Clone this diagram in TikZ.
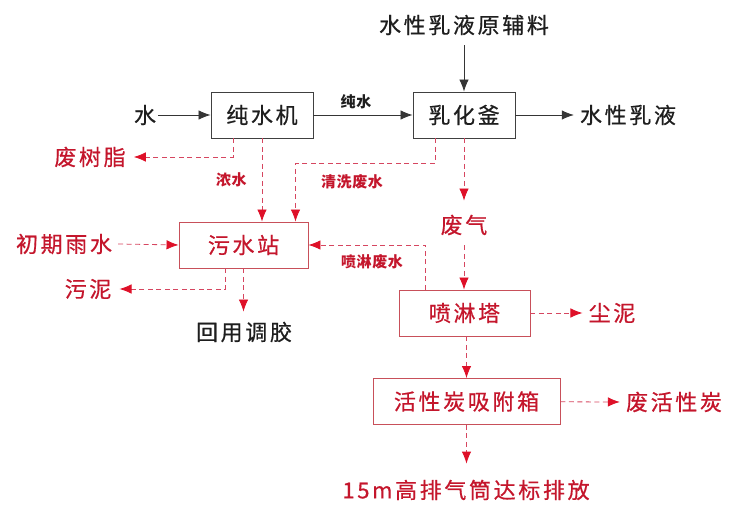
\documentclass[tikz,border=0pt]{standalone}
\usepackage{fontspec}
\setmainfont{Noto Sans CJK SC}[LetterSpace=12,FakeBold=0.6]
\newfontfamily\lblfont{Noto Sans CJK SC}[LetterSpace=4]
\usetikzlibrary{arrows.meta}
\definecolor{rtext}{RGB}{196,22,44}
\definecolor{rline}{RGB}{214,70,96}
\definecolor{rbord}{RGB}{200,80,90}
\definecolor{rhead}{RGB}{222,16,40}
\definecolor{btext}{RGB}{30,30,30}
\tikzset{
  txt/.style={font=\fontsize{22}{22}\selectfont, text=btext, inner sep=2pt},
  rtxt/.style={font=\fontsize{22}{22}\selectfont, text=rtext, inner sep=2pt},
  lbl/.style={font=\lblfont\bfseries\fontsize{15}{15}\selectfont, text=btext, inner sep=1pt},
  rlbl/.style={font=\lblfont\bfseries\fontsize{15}{15}\selectfont, text=rtext, inner sep=1pt},
  bbox/.style={draw=btext!85, line width=0.9pt, minimum width=102pt, minimum height=46pt, font=\fontsize{22}{22}\selectfont, text=btext, inner sep=0pt},
  rbox/.style={draw=rbord, line width=0.9pt, minimum height=46pt, font=\fontsize{22}{22}\selectfont, text=rtext, inner sep=0pt},
  sarr/.style={draw=btext!90, line width=0.8pt, -{Latex[length=12pt,width=9.5pt]}},
  darr/.style={draw=rline, line width=0.8pt, dash pattern=on 5pt off 3.5pt, -{Latex[length=12pt,width=9.5pt,fill=rhead,color=rhead]}},
}
\begin{document}
\begin{tikzpicture}[x=1pt,y=-1pt]
\useasboundingbox (0,0) rectangle (732,508);
% nodes
\node[bbox] (pure) at (262,115) {纯水机};
\node[bbox] (emul) at (464,115) {乳化釜};
\node[txt] (water) at (145,115) {水};
\node[txt] (raw) at (464,25) {水性乳液原辅料};
\node[txt] (product) at (628,115) {水性乳液};
\node[rtxt] (resin) at (90,157) {废树脂};
\node[rbox, minimum width=129pt] (sewage) at (243.5,245) {污水站};
\node[rtxt] (rain) at (64,244) {初期雨水};
\node[rtxt] (sludge) at (88,289) {污泥};
\node[txt] (reuse) at (244,332) {回用调胶};
\node[rtxt] (gas) at (464,225) {废气};
\node[rbox, minimum width=131pt] (spray) at (464.5,313) {喷淋塔};
\node[rtxt] (dust) at (612,313) {尘泥};
\node[rbox, minimum width=187pt] (carbon) at (466.5,401.5) {活性炭吸附箱};
\node[rtxt] (wastec) at (674,402) {废活性炭};
\node[rtxt] (stack) at (466,490) {15m高排气筒达标排放};
% solid connectors
\draw[sarr] (water) -- (pure);
\draw[sarr] (pure) -- node[lbl, above=5pt, xshift=-7pt] {纯水} (emul);
\draw[sarr] ([yshift=-8pt]raw.south) -- (emul.north);
\draw[sarr] (emul) -- ([xshift=-4pt]product.west);
% dashed connectors
\draw[darr] ([xshift=-29pt]pure.south) |- ([xshift=6pt]resin.east);
\draw[darr] (pure.south) -- node[rlbl, left=14pt, pos=0.5] {浓水} (pure.south |- sewage.north);
\draw[darr] ([xshift=-29pt]emul.south) -- ++(0,25) -| ([xshift=52pt]sewage.north);
\node[rlbl] at (352,182) {清洗废水};
\draw[darr] (emul.south) -- ([yshift=12pt]gas.north);
\draw[darr] ([yshift=-8pt]gas.south) -- (spray.north -| gas.south);
\draw[darr] ([xshift=-39pt]spray.north) |- (sewage.east);
\node[rlbl] at (372,262) {喷淋废水};
\draw[darr] ([xshift=4pt]rain.east) -- (sewage.west);
\draw[darr] ([xshift=-18pt]sewage.south) |- ([xshift=6pt]sludge.east);
\draw[darr] (sewage.south) -- ([yshift=8pt]reuse.north -| sewage.south);
\draw[darr] (spray) -- ([xshift=-4pt]dust.west);
\draw[darr] (spray.south -| carbon.north) -- (carbon.north);
\draw[darr] (carbon) -- ([xshift=-4pt]wastec.west);
\draw[darr] (carbon.south) -- ([yshift=14pt]stack.north -| carbon.south);
\end{tikzpicture}
\end{document}
